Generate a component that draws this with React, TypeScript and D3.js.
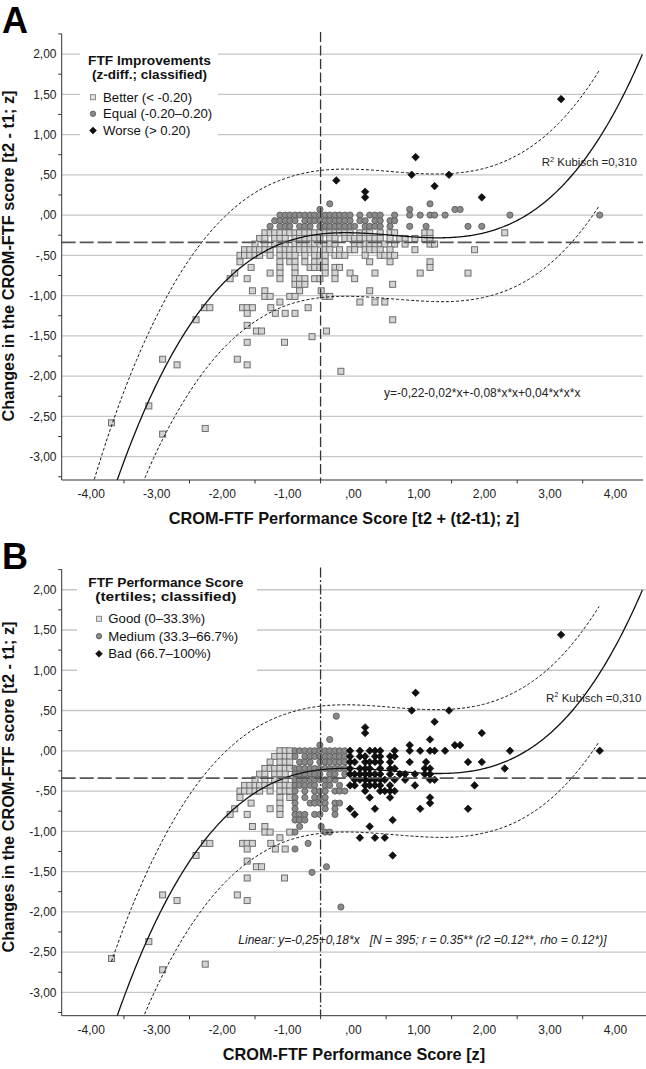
import React from 'react';
import * as d3 from 'd3';

const FONT = "'Liberation Sans', Arial, Helvetica, sans-serif";

// ---------- axis ticks ----------
const xTickValues = [-4, -3, -2, -1, 0, 1, 2, 3, 4];
const xTickLabels = ['-4,00', '-3,00', '-2,00', '-1,00', ',00', '1,00', '2,00', '3,00', '4,00'];
const xTickMarks = [-3.5, -2.5, -1.5, -0.5, 0.5, 1.5, 2.5, 3.5];
const yTickValues = [2, 1.5, 1, 0.5, 0, -0.5, -1, -1.5, -2, -2.5, -3];
const yTickLabels = ['2,00', '1,50', '1,00', ',50', ',00', '-,50', '-1,00', '-1,50', '-2,00', '-2,50', '-3,00'];
const yTickMarks = [2.25, 1.75, 1.25, 0.75, 0.25, -0.25, -0.75, -1.25, -1.75, -2.25, -2.75, -3.25];
const xDomain = [-4.45, 4.42];
const yDomain = [-3.29, 2.25];

// ---------- fit (cubic) and prediction band ----------
const cubicCoef = [-0.22, -0.02, -0.08, 0.045];
const bandX = [-4.45, -3.7, -3.0, -2.0, -1.0, 0, 1.0, 2.0, 3.0, 3.76];
const bandHalf = [0.9, 0.88, 0.84, 0.81, 0.79, 0.79, 0.79, 0.8, 0.82, 0.84];
const refLineX = -0.5;
const refLineY = -0.34;

// ---------- class thresholds ----------
const improveCuts = [-0.2, 0.2]; // panel A: by change (y)
const tertileCuts = [-0.93, -0.09]; // panel B: by performance (x)

// ---------- observations [performance score, change] ----------
const points: [number, number][] = [
  // positive changes
  [3.17, 1.44], [0.95, 0.72], [0.89, 0.5], [1.46, 0.5], [-0.26, 0.43], [1.24, 0.36], [0.18, 0.29],
  [0.18, 0.22], [1.96, 0.22], [-0.36, 0.14], [1.17, 0.14], [-0.51, 0.07], [0.86, 0.07], [1.55, 0.07], [1.63, 0.07],
  // y = 0
  [-1.12, 0], [-1.04, 0], [-0.97, 0], [-0.89, 0], [-0.82, 0], [-0.74, 0], [-0.66, 0], [-0.59, 0], [-0.51, 0],
  [-0.43, 0], [-0.36, 0], [-0.28, 0], [-0.21, 0], [-0.13, 0], [-0.05, 0], [0.1, 0], [0.25, 0], [0.33, 0],
  [0.41, 0], [0.63, 0], [0.86, 0], [1.02, 0], [1.17, 0], [1.24, 0], [1.4, 0], [2.39, 0], [3.76, 0],
  // y = -0.07
  [-1.2, -0.07], [-1.12, -0.07], [-1.04, -0.07], [-0.97, -0.07], [-0.89, -0.07], [-0.74, -0.07], [-0.66, -0.07],
  [-0.59, -0.07], [-0.51, -0.07], [-0.43, -0.07], [-0.36, -0.07], [-0.28, -0.07], [-0.21, -0.07], [-0.13, -0.07],
  [-0.05, -0.07], [0.1, -0.07], [0.18, -0.07], [0.33, -0.07], [0.41, -0.07], [0.56, -0.07], [0.63, -0.07],
  // y = -0.14
  [-1.27, -0.14], [-1.12, -0.14], [-1.04, -0.14], [-0.97, -0.14], [-0.82, -0.14], [-0.74, -0.14], [-0.66, -0.14],
  [-0.51, -0.14], [-0.43, -0.14], [-0.36, -0.14], [-0.28, -0.14], [-0.21, -0.14], [-0.13, -0.14], [-0.05, -0.14],
  [0.02, -0.14], [0.18, -0.14], [0.25, -0.14], [0.33, -0.14], [0.41, -0.14], [0.56, -0.14], [0.86, -0.14],
  [1.11, -0.14], [1.75, -0.14], [1.96, -0.14],
  // y = -0.22
  [-1.35, -0.22], [-1.27, -0.22], [-1.2, -0.22], [-1.12, -0.22], [-1.04, -0.22], [-0.97, -0.22], [-0.89, -0.22],
  [-0.82, -0.22], [-0.74, -0.22], [-0.66, -0.22], [-0.59, -0.22], [-0.51, -0.22], [-0.43, -0.22], [-0.36, -0.22],
  [-0.28, -0.22], [-0.21, -0.22], [-0.13, -0.22], [-0.05, -0.22], [0.1, -0.22], [0.18, -0.22], [0.25, -0.22],
  [0.41, -0.22], [0.56, -0.22], [0.63, -0.22], [1.09, -0.22], [1.17, -0.22], [2.31, -0.22],
  // y = -0.29
  [-1.43, -0.29], [-1.35, -0.29], [-1.2, -0.29], [-1.12, -0.29], [-1.04, -0.29], [-0.89, -0.29], [-0.82, -0.29],
  [-0.74, -0.29], [-0.66, -0.29], [-0.59, -0.29], [-0.51, -0.29], [-0.36, -0.29], [-0.28, -0.29], [-0.13, -0.29],
  [-0.05, -0.29], [0.02, -0.29], [0.1, -0.29], [0.18, -0.29], [0.25, -0.29], [0.33, -0.29], [0.41, -0.29],
  [0.56, -0.29], [0.71, -0.29], [0.79, -0.29], [0.94, -0.29], [1.09, -0.29], [1.17, -0.29],
  // y = -0.36
  [-1.5, -0.36], [-1.35, -0.36], [-1.2, -0.36], [-1.12, -0.36], [-1.04, -0.36], [-0.89, -0.36], [-0.82, -0.36],
  [-0.74, -0.36], [-0.66, -0.36], [-0.59, -0.36], [-0.51, -0.36], [-0.43, -0.36], [-0.36, -0.36], [-0.28, -0.36],
  [0.02, -0.36], [0.1, -0.36], [0.18, -0.36], [0.25, -0.36], [0.33, -0.36], [0.41, -0.36], [0.48, -0.36],
  [0.63, -0.36], [0.79, -0.36], [1.17, -0.36], [1.24, -0.36],
  // y = -0.43
  [-1.66, -0.43], [-1.58, -0.43], [-1.5, -0.43], [-1.43, -0.43], [-1.35, -0.43], [-1.27, -0.43], [-1.12, -0.43],
  [-1.04, -0.43], [-0.97, -0.43], [-0.89, -0.43], [-0.82, -0.43], [-0.74, -0.43], [-0.66, -0.43], [-0.59, -0.43],
  [-0.43, -0.43], [-0.36, -0.43], [-0.21, -0.43], [-0.05, -0.43], [0.02, -0.43], [0.18, -0.43], [0.25, -0.43],
  [0.33, -0.43], [0.41, -0.43], [0.56, -0.43], [0.94, -0.43], [1.85, -0.43],
  // y = -0.50
  [-1.73, -0.5], [-1.66, -0.5], [-1.58, -0.5], [-1.5, -0.5], [-1.43, -0.5], [-1.27, -0.5], [-1.12, -0.5],
  [-1.04, -0.5], [-0.97, -0.5], [-0.89, -0.5], [-0.74, -0.5], [-0.59, -0.5], [-0.51, -0.5], [-0.43, -0.5],
  [-0.28, -0.5], [-0.21, -0.5], [-0.13, -0.5], [0.18, -0.5], [0.41, -0.5], [0.48, -0.5], [0.56, -0.5], [0.63, -0.5],
  // y = -0.58 .. -0.79
  [-1.73, -0.58], [-1.12, -0.58], [-0.97, -0.58], [-0.89, -0.58], [-0.74, -0.58], [-0.59, -0.58], [-0.51, -0.58],
  [-0.43, -0.58], [0.25, -0.58], [0.56, -0.58], [1.17, -0.58],
  [-1.56, -0.65], [-1.12, -0.65], [-0.89, -0.65], [-0.66, -0.65], [-0.59, -0.65], [-0.51, -0.65], [-0.43, -0.65],
  [-0.28, -0.65], [-0.21, -0.65], [1.17, -0.65],
  [-1.81, -0.72], [-1.27, -0.72], [-1.12, -0.72], [-0.89, -0.72], [-0.43, -0.72], [-0.28, -0.72], [-0.05, -0.72],
  [0.33, -0.72], [1.02, -0.72], [1.75, -0.72],
  [-1.88, -0.79], [-1.62, -0.79], [-1.12, -0.79], [-0.89, -0.79], [-0.82, -0.79], [-0.74, -0.79], [-0.59, -0.79],
  [-0.51, -0.79], [-0.28, -0.79], [0.02, -0.79],
  // y = -0.86 .. -1.44
  [-0.89, -0.86], [-0.82, -0.86], [-0.74, -0.86], [0.6, -0.86],
  [-1.54, -0.94], [-1.35, -0.94], [-0.82, -0.94], [-0.49, -0.94], [0.25, -0.94],
  [-1.35, -1.01], [-1.27, -1.01], [-0.97, -1.01], [-0.89, -1.01], [-0.43, -1.01], [-0.36, -1.01],
  [-1.12, -1.08], [0.1, -1.08], [0.33, -1.08], [0.48, -1.08],
  [-2.27, -1.15], [-2.19, -1.15], [-1.69, -1.15], [-1.62, -1.15], [-1.54, -1.15], [-1.26, -1.15], [-0.69, -1.15],
  [-1.62, -1.22], [-1.19, -1.22], [-1.04, -1.22], [-0.89, -1.22],
  [-2.4, -1.3], [0.6, -1.3],
  [-1.48, -1.44], [-1.4, -1.44], [-0.41, -1.44],
  // far outliers
  [-3.69, -2.58], [-3.12, -2.37], [-2.91, -2.72], [-2.91, -1.79], [-2.69, -1.86], [-2.26, -2.65],
  [-1.77, -1.79], [-1.62, -1.86], [-1.62, -1.58], [-1.62, -1.37], [-1.05, -1.58], [-0.63, -1.51], [-0.19, -1.94],
];

type Kind = 'square' | 'circle' | 'diamond';
const kindOrder: Kind[] = ['square', 'circle', 'diamond'];

const classByChange = (p: [number, number]): Kind =>
  p[1] < improveCuts[0] ? 'square' : p[1] > improveCuts[1] ? 'diamond' : 'circle';
const classByScore = (p: [number, number]): Kind =>
  p[0] < tertileCuts[0] ? 'square' : p[0] > tertileCuts[1] ? 'diamond' : 'circle';

function Marker({ kind, cx, cy, legend }: { kind: Kind; cx: number; cy: number; legend?: boolean }) {
  if (kind === 'square') {
    const s = legend ? 5 : 6;
    return (
      <rect x={cx - s / 2} y={cy - s / 2} width={s} height={s}
        fill={legend ? '#e2e2e2' : '#d4d4d4'} stroke={legend ? '#8a8a8a' : '#6e6e6e'} strokeWidth={1} />
    );
  }
  if (kind === 'circle') {
    return <circle cx={cx} cy={cy} r={legend ? 2.7 : 3.1} fill="#8a8a8a" stroke="#5c5c5c" strokeWidth={0.9} />;
  }
  const h = legend ? 3.4 : 3.8;
  return (
    <path d={`M${cx},${cy - h}L${cx + h},${cy}L${cx},${cy + h}L${cx - h},${cy}Z`} fill="#111" stroke="#000" strokeWidth={0.6} />
  );
}

interface PanelProps {
  id: string;
  letter: string;
  top: number;
  bottom: number;
  right: number;
  classify: (p: [number, number]) => Kind;
  legendBox: [number, number, number, number];
  legendTitle: string[];
  legendTitleWidth: number[];
  legendTitleX: number;
  legendTitleY: number[];
  legendItems: string[];
  legendMarkerX: number;
  legendTextX: number;
  legendItemY: number[];
  bandStart: number;
  xTitle: string;
  xTitleX: number;
  yTitleY: number;
  vDash: string;
  children?: React.ReactNode;
}

function Panel(p: PanelProps) {
  const left = 61.7;
  const x = d3.scaleLinear().domain(xDomain).range([left, 643]);
  const y = d3.scaleLinear().domain(yDomain).range([p.bottom, p.top]);
  const fit = (v: number) => cubicCoef[0] + cubicCoef[1] * v + cubicCoef[2] * v * v + cubicCoef[3] * v * v * v;
  const half = d3.scaleLinear().domain(bandX).range(bandHalf);
  const line = d3.line<number>().x((v) => x(v)).y((v) => y(fit(v)));
  const upper = d3.line<number>().x((v) => x(v)).y((v) => y(fit(v) + half(v)));
  const lower = d3.line<number>().x((v) => x(v)).y((v) => y(fit(v) - half(v)));
  const fitXs = d3.range(xDomain[0], xDomain[1] + 0.01, 0.02);
  const bandXs = d3.range(p.bandStart, 3.76 + 0.001, 0.02);
  const clipId = `clip-${p.id}`;

  const classified = points.map((pt) => ({ pt, kind: p.classify(pt) }));

  return (
    <g>
      <defs>
        <clipPath id={clipId}>
          <rect x={left} y={p.top} width={p.right - left} height={p.bottom - p.top} />
        </clipPath>
      </defs>
      {/* gridlines */}
      {yTickValues.map((v) => (
        <line key={`g${v}`} x1={left} x2={p.right} y1={y(v)} y2={y(v)} stroke="#c6c6c6" strokeWidth={1.3} />
      ))}
      {/* legend background */}
      <rect x={p.legendBox[0]} y={p.legendBox[1]} width={p.legendBox[2]} height={p.legendBox[3]} fill="#fff" />
      {/* points */}
      {kindOrder.map((k) =>
        classified
          .filter((c) => c.kind === k)
          .map((c, i) => <Marker key={`${k}${i}`} kind={k} cx={x(c.pt[0])} cy={y(c.pt[1])} />)
      )}
      {/* curves */}
      <g clipPath={`url(#${clipId})`} fill="none">
        <path d={line(fitXs) || ''} stroke="#111" strokeWidth={1.3} />
        <path d={upper(bandXs) || ''} stroke="#111" strokeWidth={1} strokeDasharray="3,2" />
        <path d={lower(bandXs) || ''} stroke="#111" strokeWidth={1} strokeDasharray="3,2" />
      </g>
      {/* reference lines */}
      <line x1={left} x2={p.right} y1={y(refLineY)} y2={y(refLineY)} stroke="#555" strokeWidth={1.8} strokeDasharray="14,4" />
      <line x1={x(refLineX)} x2={x(refLineX)} y1={p.top - 2} y2={p.bottom} stroke="#333" strokeWidth={1.3} strokeDasharray={p.vDash} />
      {/* axes */}
      <line x1={left} x2={left} y1={p.top} y2={p.bottom} stroke="#333" strokeWidth={1} />
      <line x1={left} x2={p.right} y1={p.bottom} y2={p.bottom} stroke="#333" strokeWidth={1} />
      {yTickMarks.map((v) => (
        <line key={`ty${v}`} x1={left - 3.5} x2={left} y1={y(v)} y2={y(v)} stroke="#333" strokeWidth={1} />
      ))}
      {xTickMarks.map((v) => (
        <line key={`tx${v}`} x1={x(v)} x2={x(v)} y1={p.bottom} y2={p.bottom + 3.5} stroke="#333" strokeWidth={1} />
      ))}
      {yTickValues.map((v, i) => (
        <text key={`ly${v}`} x={56.5} y={y(v) + 4.3} textAnchor="end" fontSize={12} fill="#222">{yTickLabels[i]}</text>
      ))}
      {xTickValues.map((v, i) => (
        <text key={`lx${v}`} x={x(v)} y={p.bottom + 18} textAnchor="middle" fontSize={12} fill="#222">{xTickLabels[i]}</text>
      ))}
      {/* axis titles */}
      <text x={p.xTitleX} y={p.bottom + 44} textAnchor="middle" fontSize={16.3} fontWeight="bold" fill="#111">{p.xTitle}</text>
      <text transform={`translate(13.5,${p.yTitleY}) rotate(-90)`} textAnchor="middle" fontSize={16.3} fontWeight="bold" fill="#111">
        Changes in the CROM-FTF score [t2 - t1; z]
      </text>
      {/* legend */}
      {p.legendTitle.map((t, i) => (
        <text key={`lt${i}`} x={p.legendTitleX - p.legendTitleWidth[i] / 2} y={p.legendTitleY[i]}
          fontSize={12} fontWeight="bold" fill="#111"
          textLength={p.legendTitleWidth[i]} lengthAdjust="spacingAndGlyphs">{t}</text>
      ))}
      {p.legendItems.map((t, i) => (
        <g key={`li${i}`}>
          <Marker kind={kindOrder[i]} cx={p.legendMarkerX} cy={p.legendItemY[i] - 4.5} legend />
          <text x={p.legendTextX} y={p.legendItemY[i]} fontSize={13.2} fill="#111">{t}</text>
        </g>
      ))}
      {/* panel letter */}
      <text x={2} y={p.top - 1} fontSize={36} fontWeight="bold" fill="#000">{p.letter}</text>
      {p.children}
    </g>
  );
}

export default function App() {
  return (
    <svg width={646} height={1069} style={{ position: 'absolute', left: 0, top: 0, fontFamily: FONT }}
      xmlns="http://www.w3.org/2000/svg">
      <rect x={0} y={0} width={646} height={1069} fill="#fff" />
      <Panel
        id="a" letter="A" top={33.9} bottom={480} right={643}
        classify={classByChange}
        legendBox={[80, 42, 138, 103]}
        legendTitle={['FTF Improvements', '(z-diff.; classified)']}
        legendTitleWidth={[123, 115]}
        legendTitleX={149.5} legendTitleY={[65, 78.5]}
        legendItems={['Better (< -0.20)', 'Equal (-0.20\u20130.20)', 'Worse (> 0.20)']}
        legendMarkerX={93} legendTextX={103} legendItemY={[101.7, 118.3, 135]}
        bandStart={-4.45}
        xTitle="CROM-FTF Performance Score [t2 + (t2-t1); z]" xTitleX={344}
        yTitleY={256}
        vDash="10,3.5"
      >
        <text x={541.7} y={166} fontSize={11.5} fill="#222">
          R<tspan fontSize={7.5} dy={-4.5}>2</tspan><tspan dy={4.5}>{' Kubisch =0,310'}</tspan>
        </text>
        <text x={384} y={396.5} fontSize={12} fill="#222">y=-0,22-0,02*x+-0,08*x*x+0,04*x*x*x</text>
      </Panel>
      <Panel
        id="b" letter="B" top={569.6} bottom={1015.7} right={646}
        classify={classByScore}
        legendBox={[77, 573, 180, 103]}
        legendTitle={['FTF Performance Score', '(tertiles; classified)']}
        legendTitleWidth={[155, 141]}
        legendTitleX={165.8} legendTitleY={[587, 601]}
        legendItems={['Good (0\u201333.3%)', 'Medium (33.3\u201366.7%)', 'Bad (66.7\u2013100%)']}
        legendMarkerX={99} legendTextX={108.3} legendItemY={[623.3, 640.7, 658.3]}
        bandStart={-3.69}
        xTitle="CROM-FTF Performance Score [z]" xTitleX={354}
        yTitleY={787}
        vDash="10,2.5,2,2.5"
      >
        <text x={546} y={701.7} fontSize={11.5} fill="#222">
          R<tspan fontSize={7.5} dy={-4.5}>2</tspan><tspan dy={4.5}>{' Kubisch =0,310'}</tspan>
        </text>
        <text x={238.3} y={944} fontSize={12} fontStyle="italic" fill="#222" style={{ whiteSpace: 'pre' }}>
          {'Linear: y=-0,25+0,18*x   [N = 395; r = 0.35** (r2 =0.12**, rho = 0.12*)]'}
        </text>
      </Panel>
    </svg>
  );
}
